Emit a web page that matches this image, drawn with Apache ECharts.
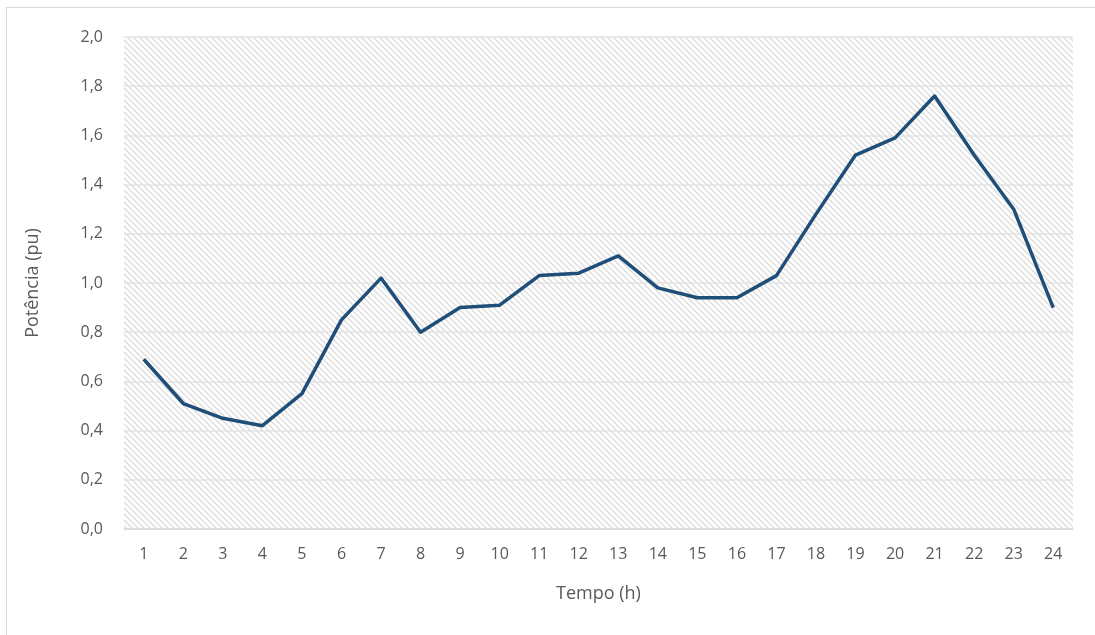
<!DOCTYPE html>
<html>
<head>
<meta charset="utf-8">
<script src="https://cdn.jsdelivr.net/npm/echarts@6/dist/echarts.min.js"></script>
<style>
html,body{margin:0;padding:0;background:#fff;}
#frame{position:absolute;left:6px;top:7px;width:1200px;height:700px;border:1px solid #d9d9d9;box-sizing:border-box;}
#chart{position:absolute;left:0;top:0;width:1095px;height:635px;}
</style>
</head>
<body>
<div id="frame"></div>
<div id="chart"></div>
<script>
const hours = ['1','2','3','4','5','6','7','8','9','10','11','12','13','14','15','16','17','18','19','20','21','22','23','24'];
const potencia = [0.69,0.51,0.45,0.42,0.55,0.85,1.02,0.80,0.90,0.91,1.03,1.04,1.11,0.98,0.94,0.94,1.03,1.28,1.52,1.59,1.76,1.52,1.30,0.90];
const xTitle = 'Tempo (h)';
const yTitle = 'Potência (pu)';

const tile = document.createElement('canvas');
tile.width = 6; tile.height = 6;
const c = tile.getContext('2d');
c.fillStyle = '#ffffff'; c.fillRect(0,0,6,6);
c.strokeStyle = '#dedede'; c.lineWidth = 1.5;
c.beginPath();
c.moveTo(-1,-1); c.lineTo(7,7);
c.moveTo(-7,-1); c.lineTo(1,7);
c.moveTo(5,-1); c.lineTo(13,7);
c.stroke();

const chart = echarts.init(document.getElementById('chart'));
const font = '"Open Sans", "Liberation Sans", sans-serif';
chart.setOption({
  animation:false,
  grid:{left:124,right:22,top:37,bottom:106,show:true,borderWidth:0,
    backgroundColor:{image:tile,repeat:'repeat'}},
  xAxis:{type:'category',data:hours,boundaryGap:true,
    name:xTitle,nameLocation:'middle',nameGap:56,
    nameTextStyle:{color:'#595959',fontSize:18,fontFamily:font},
    axisLine:{lineStyle:{color:'#d9d9d9',width:1.5}},
    axisTick:{show:false},
    axisLabel:{color:'#595959',fontSize:16,fontFamily:font,margin:17}},
  yAxis:{type:'value',min:0,max:2,interval:0.2,
    name:yTitle,nameLocation:'middle',nameGap:82,
    nameTextStyle:{color:'#595959',fontSize:18,fontFamily:font},
    axisLine:{show:false},axisTick:{show:false},
    axisLabel:{color:'#595959',fontSize:16,fontFamily:font,margin:21,
      formatter:v=>v.toFixed(1).replace('.',',')},
    splitLine:{lineStyle:{color:'#e3e3e3',width:1.5}}},
  series:[{type:'line',data:potencia,symbol:'none',
    lineStyle:{color:'#1f4e79',width:3.5,join:'round'}}]
});
</script>
</body>
</html>
